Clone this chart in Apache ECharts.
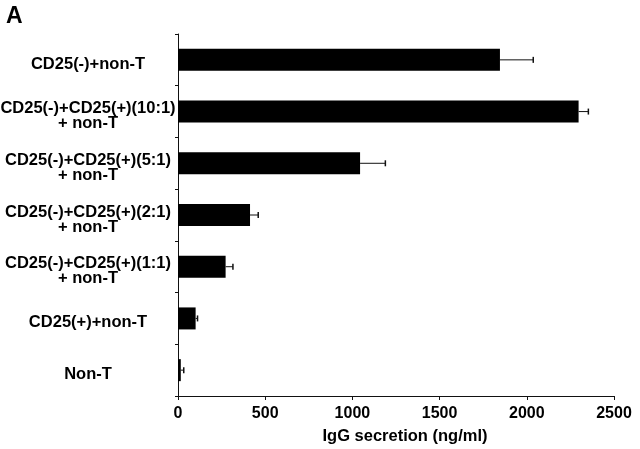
<!DOCTYPE html>
<html>
<head>
<meta charset="utf-8">
<script src="https://cdn.jsdelivr.net/npm/echarts@6/dist/echarts.min.js"></script>
<style>
html,body{margin:0;padding:0;background:#fff;}
#c{width:640px;height:449px;}
</style>
</head>
<body>
<div id="c"></div>
<script>
var categories = [
  "CD25(-)+non-T",
  "CD25(-)+CD25(+)(10:1)\n+ non-T",
  "CD25(-)+CD25(+)(5:1)\n+ non-T",
  "CD25(-)+CD25(+)(2:1)\n+ non-T",
  "CD25(-)+CD25(+)(1:1)\n+ non-T",
  "CD25(+)+non-T",
  "Non-T"
];
var values = [1846, 2297, 1044, 413, 273, 101, 16];
var errors = [191, 56, 145, 47, 42, 11, 17];
var xTicks = [0, 500, 1000, 1500, 2000, 2500];

var FONT = "'Liberation Sans', Arial, Helvetica, sans-serif";
var chart = echarts.init(document.getElementById('c'), null, {renderer: 'canvas'});

var errData = values.map(function (v, i) { return [i, v, v + errors[i]]; });

chart.setOption({
  animation: false,
  backgroundColor: '#fff',
  title: {
    text: 'A', left: 1, top: 0,
    textStyle: {fontFamily: FONT, fontWeight: 'bold', fontSize: 23, color: '#000'}
  },
  grid: {left: 178, right: 26, top: 34, bottom: 53, containLabel: false, outerBoundsMode: 'none'},
  xAxis: {
    type: 'value',
    min: xTicks[0], max: xTicks[xTicks.length - 1], interval: 500,
    name: 'IgG secretion (ng/ml)',
    nameLocation: 'middle',
    nameGap: 32,
    nameTextStyle: {fontFamily: FONT, fontWeight: 'bold', fontSize: 16.5, color: '#000', padding: [0, 0, 0, 18]},
    axisLine: {show: true, lineStyle: {color: '#111', width: 1}},
    axisTick: {show: true, length: 4, lineStyle: {color: '#111'}},
    axisLabel: {
      fontFamily: FONT, fontWeight: 'bold', fontSize: 16, color: '#000', margin: 10,
      formatter: function (v) { return String(v); }
    },
    splitLine: {show: false}
  },
  yAxis: {
    type: 'category',
    data: categories,
    inverse: true,
    axisLine: {show: true, lineStyle: {color: '#111', width: 1}},
    axisTick: {show: true, length: 3, inside: false, lineStyle: {color: '#111'}},
    axisLabel: {
      fontFamily: FONT, fontWeight: 'bold', fontSize: 16.5, color: '#000',
      align: 'center', verticalAlign: 'middle', margin: 90, lineHeight: 15,
      formatter: function (v) { return '{p| }\n' + v; },
      rich: {p: {fontSize: 1, lineHeight: 9}}
    }
  },
  series: [
    {
      type: 'bar',
      data: values,
      barWidth: 22,
      itemStyle: {color: '#000'},
      z: 2
    },
    {
      type: 'custom',
      data: errData,
      z: 3,
      renderItem: function (params, api) {
        var idx = api.value(0);
        var p0 = api.coord([api.value(1), idx]);
        var p1 = api.coord([api.value(2), idx]);
        var y = p0[1];
        return {
          type: 'group',
          children: [
            {type: 'line', shape: {x1: p0[0], y1: y, x2: p1[0], y2: y}, style: {stroke: '#111', lineWidth: 1}},
            {type: 'line', shape: {x1: p1[0], y1: y - 3, x2: p1[0], y2: y + 3}, style: {stroke: '#111', lineWidth: 1.5}}
          ]
        };
      },
      encode: {x: [1, 2], y: 0}
    }
  ]
});
</script>
</body>
</html>
